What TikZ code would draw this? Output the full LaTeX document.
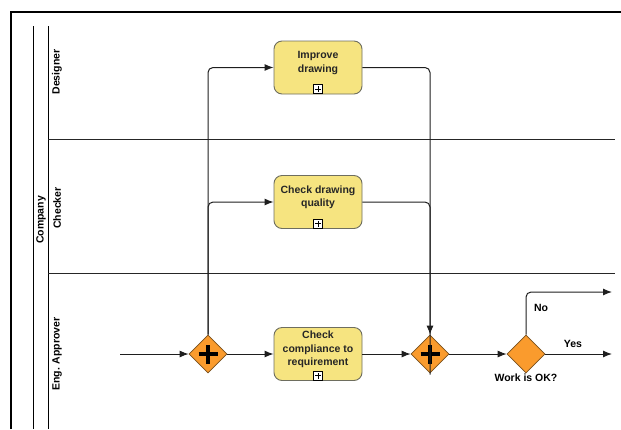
\documentclass[tikz,border=0pt]{standalone}
\usepackage{fontspec}
\setmainfont{Liberation Sans}
\usetikzlibrary{shapes.geometric,arrows.meta}
\definecolor{taskfill}{RGB}{246,228,128}
\definecolor{taskline}{RGB}{110,110,95}
\definecolor{gwfill}{RGB}{250,155,45}
\definecolor{gwline}{RGB}{120,80,30}
\definecolor{conn}{RGB}{30,30,30}
\tikzset{
  lbl/.style={font=\fontsize{10.5}{12}\selectfont\bfseries, text=black, inner sep=0pt},
  task/.style={draw=taskline, fill=taskfill, rounded corners=8pt, line width=0.9pt,
    minimum width=88pt, minimum height=53pt, inner sep=0pt},
  tasktext/.style={font=\fontsize{10.5}{13.5}\selectfont\bfseries, align=center, inner sep=0pt, text=black!85},
  expmark/.style={draw=black, fill=white, minimum size=9pt, inner sep=0pt, line width=0.6pt,
    path picture={\draw[line width=0.6pt] ([xshift=-3pt]path picture bounding box.center) -- ([xshift=3pt]path picture bounding box.center);
                  \draw[line width=0.6pt] ([yshift=-3pt]path picture bounding box.center) -- ([yshift=3pt]path picture bounding box.center);}},
  gateway/.style={diamond, draw=gwline, fill=gwfill, line width=0.7pt, minimum size=38pt, inner sep=0pt, aspect=1},
  parallel/.style={gateway, path picture={
      \draw[line width=3.8pt, black] ([xshift=-9.5pt]path picture bounding box.center) -- ([xshift=9.5pt]path picture bounding box.center);
      \draw[line width=3.8pt, black] ([yshift=-9.5pt]path picture bounding box.center) -- ([yshift=9.5pt]path picture bounding box.center);}},
  flow/.style={draw=conn, line width=1pt, rounded corners=5pt, -{Latex[length=9pt,width=7pt]}},
  frame/.style={line width=2pt, black},
  poolline/.style={line width=1pt, black},
  laneline/.style={line width=1pt, black!85},
}
\begin{document}
\begin{tikzpicture}[x=1pt,y=-1pt]
\useasboundingbox (0,0) rectangle (621,429);
% outer frame
\draw[frame] (11,429) -- (11,12) -- (621,12);
% pool and lanes
\draw[poolline] (33,26) -- (33,429);
\draw[poolline] (48,26) -- (48,429);
\draw[laneline] (48,139) -- (615,139);
\draw[laneline] (48,273) -- (615,273);
\node[lbl, rotate=90] (company) at (41,220) {Company};
\node[lbl, rotate=90] (designer) at (57,72) {Designer};
\node[lbl, rotate=90] (checker) at (57,208) {Checker};
\node[lbl, rotate=90] (approver) at (57,354) {Eng. Approver};
% tasks
\node[task] (t1) at (318,67.5) {};
\node[tasktext] (t1txt) at (318,63) {Improve\\drawing};
\node[expmark] (m1) at (318,89) {};
\node[task] (t2) at (318,202) {};
\node[tasktext] (t2txt) at (318,197.5) {Check drawing\\quality};
\node[expmark] (m2) at (318,223.5) {};
\node[task] (t3) at (318,354) {};
\node[tasktext] (t3txt) at (318,349.5) {Check\\compliance to\\requirement};
\node[expmark] (m3) at (318,375.5) {};
% gateways
\node[parallel] (g1) at (208,354) {};
\node[parallel] (g2) at (430,354) {};
\node[gateway] (g3) at (526,354) {};
\node[lbl, anchor=north] (q) at (526,374) {Work is OK?};
% coordinates
\coordinate (start) at (120,354);
\coordinate (yesend) at (612,354);
\coordinate (noend) at (612,292);
% connectors
\draw[flow] (start) -- (g1.west);
\draw[flow] (g1.north) |- (t1.west);
\draw[flow] (g1.north) |- (t2.west);
\draw[flow] (g1.east) -- (t3.west);
\draw[flow] (t3.east) -- (g2.west);
\draw[flow] (t1.east) -| (g2.north);
\draw[draw=conn, line width=1pt, rounded corners=5pt] (t2.east) -| ([yshift=-40pt]g2.north);
\draw[flow] (g2.east) -- (g3.west);
\draw[flow] (g3.east) -- (yesend);
\draw[flow] (g3.north) |- (noend);
\node[lbl] (yes) at (573,344) {Yes};
\node[lbl] (no) at (541,308) {No};
\end{tikzpicture}
\end{document}
